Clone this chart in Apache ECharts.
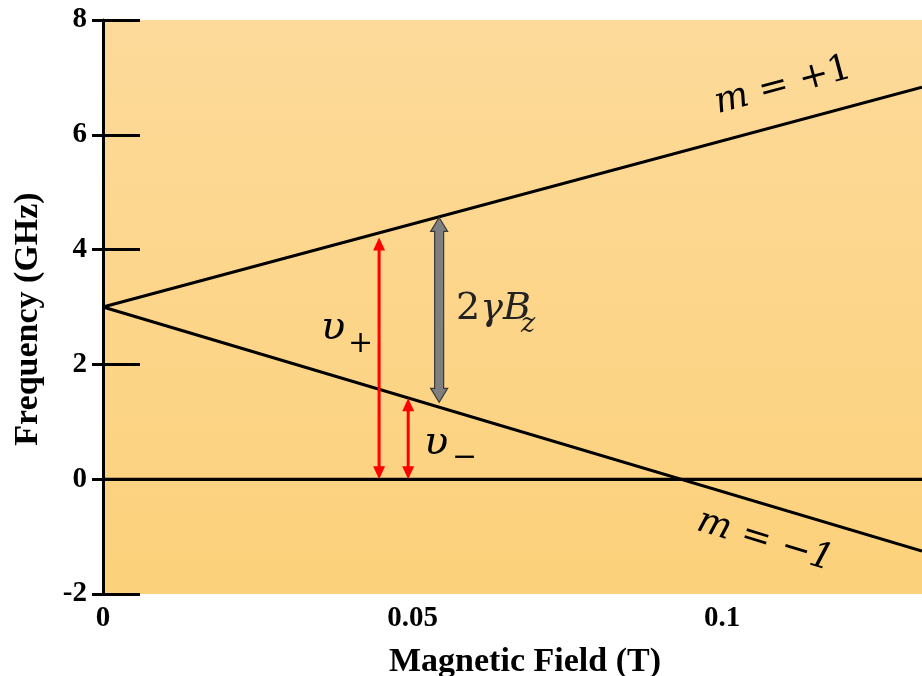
<!DOCTYPE html>
<html>
<head>
<meta charset="utf-8">
<script src="https://cdn.jsdelivr.net/npm/echarts@6/dist/echarts.min.js"></script>
<style>html,body{margin:0;padding:0;background:#fff;}#c{width:922px;height:676px;}</style>
</head>
<body>
<div id="c"></div>
<script>
// ---- data ----
const fieldB = [0, 0.1323];            // magnetic field (T) endpoints drawn
const freqPlus = [3, 6.83];            // m = +1 level (GHz)
const freqMinus = [3, -1.25];          // m = -1 level (GHz)
const freqZero = [0, 0];               // zero reference line
const xTickLabels = ['0', '0.05', '0.1'];
const yTickLabels = ['-2', '0', '2', '4', '6', '8'];
const arrowB = [0.0446, 0.0493, 0.0543];   // arrow positions (T)
const arrowLow = [0, 0, 1.34];             // arrow bottom (GHz)
const arrowHigh = [4.21, 1.41, 4.56];      // arrow top (GHz)
const arrowKind = [0, 0, 1];               // 0 = red, 1 = grey

const chart = echarts.init(document.getElementById('c'));
const serif = '"Liberation Serif", "Times New Roman", serif';
const mathFont = '"DejaVu Serif", "Liberation Serif", serif';

function pairs(xs, ys) { return xs.map((x, i) => [x, ys[i]]); }

function arrowPts(cx, top, bot, sw, hw, hl) {
  return [[cx, top], [cx + hw / 2, top + hl], [cx + sw / 2, top + hl], [cx + sw / 2, bot - hl],
          [cx + hw / 2, bot - hl], [cx, bot], [cx - hw / 2, bot - hl], [cx - sw / 2, bot - hl],
          [cx - sw / 2, top + hl], [cx - hw / 2, top + hl]];
}

const axisLineStyle = { color: '#000', width: 3 };

chart.setOption({
  animation: false,
  grid: {
    left: 103, right: 0, top: 20, bottom: 82, show: true, borderWidth: 0,
    backgroundColor: new echarts.graphic.LinearGradient(0, 0, 0, 1, [
      { offset: 0, color: '#fdda9a' }, { offset: 1, color: '#fcd17b' }
    ])
  },
  xAxis: [{
    type: 'value', min: 0, max: fieldB[1], interval: 0.05,
    axisLine: { show: true, lineStyle: axisLineStyle },
    axisTick: { show: false }, splitLine: { show: false },
    axisLabel: {
      margin: 10, showMaxLabel: false, fontFamily: serif, fontWeight: 'bold', fontSize: 29, color: '#000',
      formatter: v => { const i = Math.round(v / 0.05); return (Math.abs(v - i * 0.05) < 1e-9 && xTickLabels[i]) || ''; }
    }
  }, {
    type: 'value', position: 'top', min: 0, max: fieldB[1],
    axisLine: { show: true, lineStyle: axisLineStyle },
    axisTick: { show: false }, axisLabel: { show: false }, splitLine: { show: false }
  }],
  yAxis: [{
    type: 'value', min: -2, max: 8, interval: 2,
    axisLine: { show: true, lineStyle: axisLineStyle },
    axisTick: { show: true, length: 11, lineStyle: { width: 3, color: '#000' } },
    splitLine: { show: false },
    axisLabel: {
      margin: 16, fontFamily: serif, fontWeight: 'bold', fontSize: 29, color: '#000',
      formatter: v => yTickLabels[Math.round((v + 2) / 2)] || ''
    }
  }, {
    type: 'value', min: -2, max: 8, interval: 2, position: 'left',
    axisLine: { show: false },
    axisTick: { show: true, inside: true, length: 37, lineStyle: { width: 3, color: '#000' } },
    axisLabel: { show: false }, splitLine: { show: false }
  }],
  series: [
    { type: 'line', data: pairs(fieldB, freqZero), showSymbol: false, symbol: 'none',
      lineStyle: { color: '#000', width: 3 }, z: 3 },
    { type: 'line', data: pairs(fieldB, freqPlus), showSymbol: false, symbol: 'none',
      lineStyle: { color: '#000', width: 3 }, z: 3 },
    { type: 'line', data: pairs(fieldB, freqMinus), showSymbol: false, symbol: 'none',
      lineStyle: { color: '#000', width: 3 }, z: 3 },
    {
      type: 'custom', z: 5, clip: true,
      data: arrowB.map((b, i) => [b, arrowLow[i], arrowHigh[i], arrowKind[i]]),
      encode: { x: 0, y: [1, 2] },
      renderItem: (params, api) => {
        const x = api.value(0), lo = api.value(1), hi = api.value(2), k = api.value(3);
        const pTop = api.coord([x, hi]), pBot = api.coord([x, lo]);
        if (k === 0) {
          return { type: 'polygon', shape: { points: arrowPts(pTop[0], pTop[1], pBot[1], 3, 12, 13) },
                   style: { fill: '#ff0000', stroke: null } };
        }
        return { type: 'polygon', shape: { points: arrowPts(pTop[0], pTop[1], pBot[1], 9, 17, 14) },
                 style: { fill: '#7f7f7f', stroke: '#3a3a3a', lineWidth: 1.2 } };
      }
    }
  ],
  graphic: [
    { type: 'text', x: 28, y: 319, rotation: Math.PI / 2, style: {
        text: 'Frequency (GHz)', font: 'bold 34px ' + serif, fill: '#000', textAlign: 'center', textVerticalAlign: 'middle' }, z: 10 },
    { type: 'text', x: 525, y: 662, style: {
        text: 'Magnetic Field (T)', font: 'bold 34px ' + serif, fill: '#000', textAlign: 'center', textVerticalAlign: 'middle' }, z: 10 },
    { type: 'text', x: 321, y: 349, style: { text: 'υ', font: 'italic 40px ' + mathFont, fill: '#000', textVerticalAlign: 'bottom' }, z: 10 },
    { type: 'text', x: 348, y: 359, style: { text: '+', font: '30px ' + mathFont, fill: '#000', textVerticalAlign: 'bottom' }, z: 10 },
    { type: 'text', x: 424, y: 464, style: { text: 'υ', font: 'italic 40px ' + mathFont, fill: '#000', textVerticalAlign: 'bottom' }, z: 10 },
    { type: 'text', x: 452, y: 473, style: { text: '−', font: '30px ' + mathFont, fill: '#000', textVerticalAlign: 'bottom' }, z: 10 },
    { type: 'text', x: 456, y: 328, style: {
        text: '{n|2}{i|γB}', fill: '#222', textVerticalAlign: 'bottom',
        rich: { n: { font: '38px ' + mathFont, fill: '#222' }, i: { font: 'italic 38px ' + mathFont, fill: '#222' } } }, z: 10 },
    { type: 'text', x: 521, y: 338, style: { text: 'z', font: 'italic 27px ' + mathFont, fill: '#222', textVerticalAlign: 'bottom' }, z: 10 },
    { type: 'text', x: 783, y: 86, rotation: 15 * Math.PI / 180, style: {
        text: '{i|m} = +1', font: '36px ' + mathFont, fill: '#000', textAlign: 'center', textVerticalAlign: 'middle',
        rich: { i: { font: 'italic 36px ' + mathFont } } }, z: 10 },
    { type: 'text', x: 765, y: 541, rotation: -17 * Math.PI / 180, style: {
        text: '{i|m} = −{i|1}', font: '36px ' + mathFont, fill: '#000', textAlign: 'center', textVerticalAlign: 'middle',
        rich: { i: { font: 'italic 36px ' + mathFont } } }, z: 10 }
  ]
});
</script>
</body>
</html>
